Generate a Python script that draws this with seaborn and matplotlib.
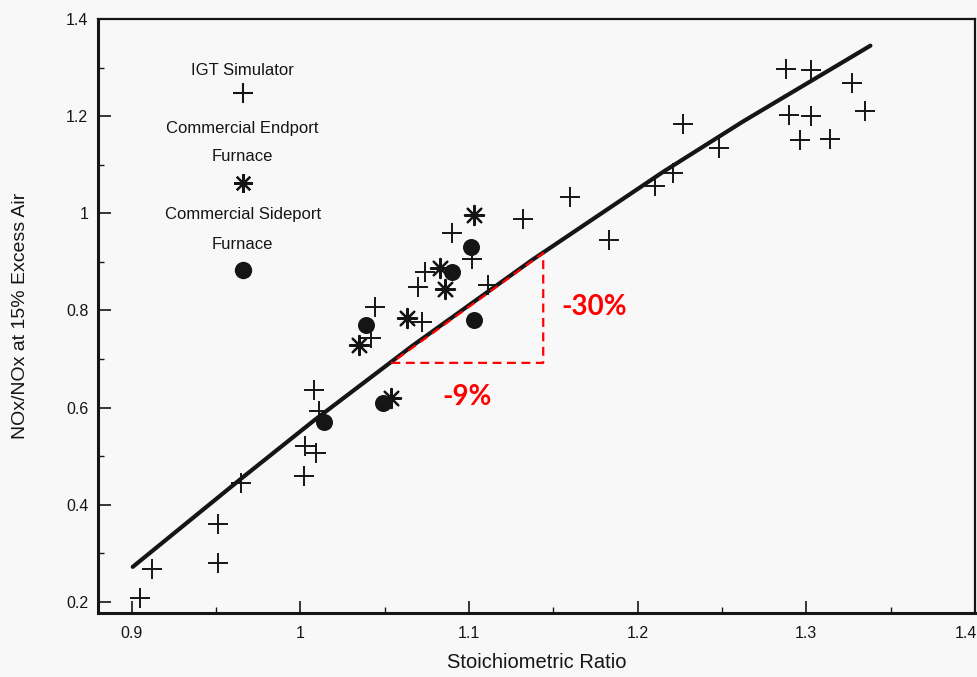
import matplotlib
matplotlib.use("Agg")
import matplotlib.pyplot as plt
import matplotlib.transforms as mtransforms
import seaborn as sns
import pandas as pd

# IGT simulator measurements
igt_ratio = [0.905, 0.912, 0.951, 0.951, 0.965, 1.002, 1.003, 1.009, 1.008, 1.011,
             1.044, 1.042, 1.070, 1.072, 1.074, 1.090, 1.102, 1.111, 1.132, 1.160,
             1.183, 1.210, 1.221, 1.227, 1.248, 1.288, 1.303, 1.327, 1.290, 1.303,
             1.335, 1.296, 1.314]
igt_nox = [0.207, 0.268, 0.361, 0.280, 0.445, 0.459, 0.521, 0.507, 0.637, 0.593,
           0.807, 0.743, 0.848, 0.776, 0.879, 0.960, 0.906, 0.853, 0.988, 1.034,
           0.945, 1.056, 1.083, 1.184, 1.134, 1.297, 1.295, 1.268, 1.202, 1.200,
           1.211, 1.151, 1.153]

# Commercial endport furnace
endport_ratio = [1.035, 1.063, 1.083, 1.086, 1.103, 1.054]
endport_nox = [0.729, 0.785, 0.888, 0.844, 0.997, 0.620]

# Commercial sideport furnace
sideport_ratio = [1.014, 1.039, 1.049, 1.090, 1.101, 1.103]
sideport_nox = [0.571, 0.770, 0.609, 0.879, 0.931, 0.780]

# Correlation curve
curve_ratio = [0.9006, 0.965, 1.0083, 1.066, 1.1375, 1.215, 1.2625, 1.338]
curve_nox = [0.272, 0.454, 0.574, 0.726, 0.904, 1.085, 1.189, 1.345]

# Reduction triangle (stoichiometric -9%, NOx -30%)
tri_ratio = [1.054, 1.144, 1.144]
tri_nox = [0.692, 0.692, 0.918]

x_ticks = [0.9, 1.0, 1.1, 1.2, 1.3, 1.4]
x_ticklabels = ["0.9", "1", "1.1", "1.2", "1.3", "1.4"]
y_ticks = [0.2, 0.4, 0.6, 0.8, 1.0, 1.2, 1.4]
y_ticklabels = ["0.2", "0.4", "0.6", "0.8", "1", "1.2", "1.4"]

sns.set_theme(style="ticks")
plt.rcParams["font.family"] = ["Liberation Sans", "DejaVu Sans"]

bg = "#f8f8f8"
fig = plt.figure(figsize=(9.78, 6.77), dpi=100, facecolor=bg)
ax = fig.add_axes([0.1002, 0.0945, 0.8967, 0.8775])
ax.set_facecolor(bg)

ink = "#151515"

igt = pd.DataFrame({"ratio": igt_ratio, "nox": igt_nox})
endp = pd.DataFrame({"ratio": endport_ratio, "nox": endport_nox})
side = pd.DataFrame({"ratio": sideport_ratio, "nox": sideport_nox})
curve = pd.DataFrame({"ratio": curve_ratio, "nox": curve_nox})

sns.lineplot(data=curve, x="ratio", y="nox", ax=ax, color=ink, lw=3.0,
             sort=False, estimator=None, solid_capstyle="round",
             solid_joinstyle="round")

sns.scatterplot(data=igt, x="ratio", y="nox", ax=ax, marker="+", s=200,
                color=ink, linewidth=1.4, zorder=3)
sns.scatterplot(data=endp, x="ratio", y="nox", ax=ax, marker=(8, 2, 0), s=190,
                color=ink, linewidth=1.6, zorder=3)
sns.scatterplot(data=side, x="ratio", y="nox", ax=ax, marker="o", s=150,
                color=ink, edgecolor=ink, linewidth=0, zorder=3)

# dashed reduction triangle
red = "#ff0000"
ax.plot(tri_ratio + [tri_ratio[0]], tri_nox + [tri_nox[0]], color=red, lw=1.6,
        ls=(0, (4, 2.5)), zorder=4)
ax.text(1.174, 0.808, "-30%", color=red, fontsize=20, fontweight="bold",
        family=["Lato", "DejaVu Sans"], ha="center", va="center")
ax.text(1.099, 0.622, "-9%", color=red, fontsize=20, fontweight="bold",
        family=["Lato", "DejaVu Sans"], ha="center", va="center")

# legend drawn as a stacked column of labels and symbols
lx = 0.165
tk = dict(transform=ax.transAxes, ha="center", va="center", fontsize=12, color=ink)
ax.text(lx, 0.914, "IGT Simulator", **tk)
ax.plot([lx], [0.875], marker="+", ms=14, mew=1.5, color=ink, transform=ax.transAxes)
ax.text(lx, 0.816, "Commercial Endport", **tk)
ax.text(lx, 0.768, "Furnace", **tk)
ax.plot([lx], [0.724], marker=(8, 2, 0), ms=13.5, mew=1.6, color=ink, transform=ax.transAxes)
ax.text(lx, 0.670, "Commercial Sideport", **tk)
ax.text(lx, 0.621, "Furnace", **tk)
ax.plot([lx], [0.577], marker="o", ms=11.5, color=ink, transform=ax.transAxes)

ax.set_xlim(0.88, 1.4)
ax.set_ylim(0.177, 1.4)
ax.set_xticks(x_ticks)
ax.set_xticklabels(x_ticklabels)
ax.set_yticks(y_ticks)
ax.set_yticklabels(y_ticklabels)
ax.set_xticks([0.95, 1.05, 1.15, 1.25, 1.35], minor=True)
ax.set_yticks([0.3, 0.5, 0.7, 0.9, 1.1, 1.3], minor=True)

ax.tick_params(which="major", direction="in", length=9, width=1.2, color=ink,
               labelsize=11.5, labelcolor=ink)
ax.tick_params(axis="x", which="major", pad=9)
ax.tick_params(axis="y", which="major", pad=7)
ax.tick_params(which="minor", direction="in", length=4.5, width=1.0, color=ink)
ax.tick_params(top=False, right=False, which="both")

# keep the last x tick label inside the canvas edge
last_label = ax.get_xticklabels()[-1]
last_label.set_transform(last_label.get_transform() +
                         mtransforms.ScaledTranslation(-9 / 100, 0, fig.dpi_scale_trans))

for side_name, w in [("left", 2.2), ("bottom", 2.2), ("top", 1.6), ("right", 1.6)]:
    ax.spines[side_name].set_visible(True)
    ax.spines[side_name].set_linewidth(w)
    ax.spines[side_name].set_color(ink)

ax.set_xlabel("Stoichiometric Ratio", fontsize=14.5, color=ink)
ax.set_ylabel("NOx/NOx at 15% Excess Air", fontsize=14, color=ink)
ax.xaxis.set_label_coords(0.5, -0.068)
ax.yaxis.set_label_coords(-0.079, 0.5)

fig.savefig("out.png", dpi=100, facecolor=bg)
